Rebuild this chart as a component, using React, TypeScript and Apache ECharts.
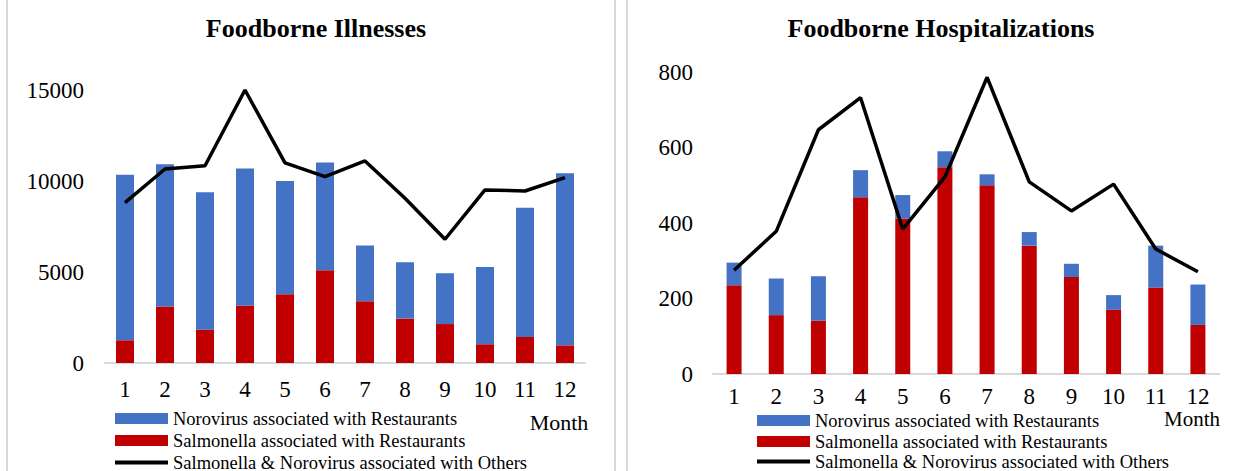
import React, { useEffect, useRef } from "react";
import * as echarts from "echarts";

const months = ["1", "2", "3", "4", "5", "6", "7", "8", "9", "10", "11", "12"];

const illNoro = [9090, 7820, 7550, 7530, 6220, 5930, 3060, 3090, 2790, 4240, 7100, 9460];
const illSalm = [1250, 3100, 1830, 3150, 3780, 5090, 3390, 2440, 2140, 1030, 1430, 970];
const illOthers = [8810, 10660, 10840, 15000, 11000, 10240, 11100, 9050, 6800, 9510, 9450, 10190];

const hospNoro = [60, 97, 118, 72, 62, 42, 29, 36, 35, 39, 111, 107];
const hospSalm = [235, 156, 141, 468, 412, 548, 500, 340, 257, 170, 229, 130];
const hospOthers = [275, 378, 647, 732, 384, 522, 786, 509, 432, 503, 331, 271];

const names = [
  "Norovirus associated with Restaurants",
  "Salmonella associated with Restaurants",
  "Salmonella & Norovirus associated with Others",
];
const titles = ["Foodborne Illnesses", "Foodborne Hospitalizations"];

const BLUE = "#4472C4";
const RED = "#C00000";
const BLACK = "#000000";
const FONT = "Liberation Serif";

export default function App() {
  const ref = useRef<HTMLDivElement>(null);
  useEffect(() => {
    if (!ref.current) return;
    const chart = echarts.init(ref.current, null, { renderer: "svg" });
    const axisLabel = { fontFamily: FONT, fontSize: 23, color: "#000" };
    const legendAt = (name: string, color: string, left: number, top: number, isLine = false) => ({
      orient: "vertical" as const,
      left,
      top,
      padding: 0,
      itemWidth: 53,
      itemHeight: isLine ? 4 : 11,
      itemGap: 0,
      icon: "rect",
      itemStyle: { color, borderWidth: 0 },
      textStyle: { fontFamily: FONT, fontSize: 18.5, color: "#000", lineHeight: 18 },
      selectedMode: false,
      data: [name],
    });
    const titleStyle = { fontFamily: FONT, fontSize: 26, fontWeight: "bold", color: "#000" };
    chart.setOption({
      animation: false,
      backgroundColor: "#fff",
      title: [
        { text: titles[0], left: 311, top: 10, textAlign: "center", textStyle: titleStyle },
        { text: titles[1], left: 936, top: 10, textAlign: "center", textStyle: titleStyle },
      ],
      legend: [
        legendAt(names[0], BLUE, 115, 409),
        legendAt(names[1], RED, 115, 431),
        legendAt(names[2], BLACK, 115, 453, true),
        legendAt(names[0], BLUE, 757, 411),
        legendAt(names[1], RED, 757, 432),
        legendAt(names[2], BLACK, 757, 452, true),
      ],
      grid: [
        { left: 105, width: 480, top: 90, height: 273 },
        { left: 713, width: 506, top: 72, height: 302 },
      ],
      xAxis: [0, 1].map((i) => ({
        type: "category",
        gridIndex: i,
        data: months,
        axisLine: { lineStyle: { color: "#d9d9d9", width: 2 } },
        axisTick: { show: false },
        axisLabel: { ...axisLabel, margin: i === 0 ? 15 : 11 },
      })),
      yAxis: [
        {
          type: "value",
          gridIndex: 0,
          min: 0,
          max: 15000,
          interval: 5000,
          splitLine: { show: false },
          axisLine: { show: false },
          axisLabel: { ...axisLabel, margin: 21, formatter: (v: number) => String(v) },
        },
        {
          type: "value",
          gridIndex: 1,
          min: 0,
          max: 800,
          interval: 200,
          splitLine: { show: false },
          axisLine: { show: false },
          axisLabel: { ...axisLabel, margin: 20, formatter: (v: number) => String(v) },
        },
      ],
      series: [
        {
          name: names[1],
          type: "bar",
          stack: "a",
          xAxisIndex: 0,
          yAxisIndex: 0,
          barWidth: 18,
          itemStyle: { color: RED },
          data: illSalm,
        },
        {
          name: names[0],
          type: "bar",
          stack: "a",
          xAxisIndex: 0,
          yAxisIndex: 0,
          barWidth: 18,
          itemStyle: { color: BLUE },
          data: illNoro,
        },
        {
          name: names[2],
          type: "line",
          xAxisIndex: 0,
          yAxisIndex: 0,
          symbol: "none",
          lineStyle: { color: BLACK, width: 3.5 },
          itemStyle: { color: BLACK },
          data: illOthers,
        },
        {
          name: names[1],
          type: "bar",
          stack: "b",
          xAxisIndex: 1,
          yAxisIndex: 1,
          barWidth: 15,
          itemStyle: { color: RED },
          data: hospSalm,
        },
        {
          name: names[0],
          type: "bar",
          stack: "b",
          xAxisIndex: 1,
          yAxisIndex: 1,
          barWidth: 15,
          itemStyle: { color: BLUE },
          data: hospNoro,
        },
        {
          name: names[2],
          type: "line",
          xAxisIndex: 1,
          yAxisIndex: 1,
          symbol: "none",
          lineStyle: { color: BLACK, width: 3.5 },
          itemStyle: { color: BLACK },
          data: hospOthers,
        },
      ],
      graphic: [
        { type: "rect", shape: { x: 6, y: 0, width: 2, height: 471 }, style: { fill: "#d9d9d9" } },
        { type: "rect", shape: { x: 614, y: 0, width: 2, height: 471 }, style: { fill: "#d9d9d9" } },
        { type: "rect", shape: { x: 626, y: 0, width: 2, height: 471 }, style: { fill: "#d9d9d9" } },
        {
          type: "text",
          x: 559,
          y: 422,
          style: { text: "Month", fontFamily: FONT, fontSize: 22, fill: "#000", align: "center", verticalAlign: "middle" },
        },
        {
          type: "text",
          x: 1192,
          y: 419,
          style: { text: "Month", fontFamily: FONT, fontSize: 21, fill: "#000", align: "center", verticalAlign: "middle" },
        },
      ],
    });
    return () => chart.dispose();
  }, []);
  return (
    <div
      ref={ref}
      style={{ position: "absolute", left: 0, top: 0, width: 1244, height: 471 }}
    />
  );
}
